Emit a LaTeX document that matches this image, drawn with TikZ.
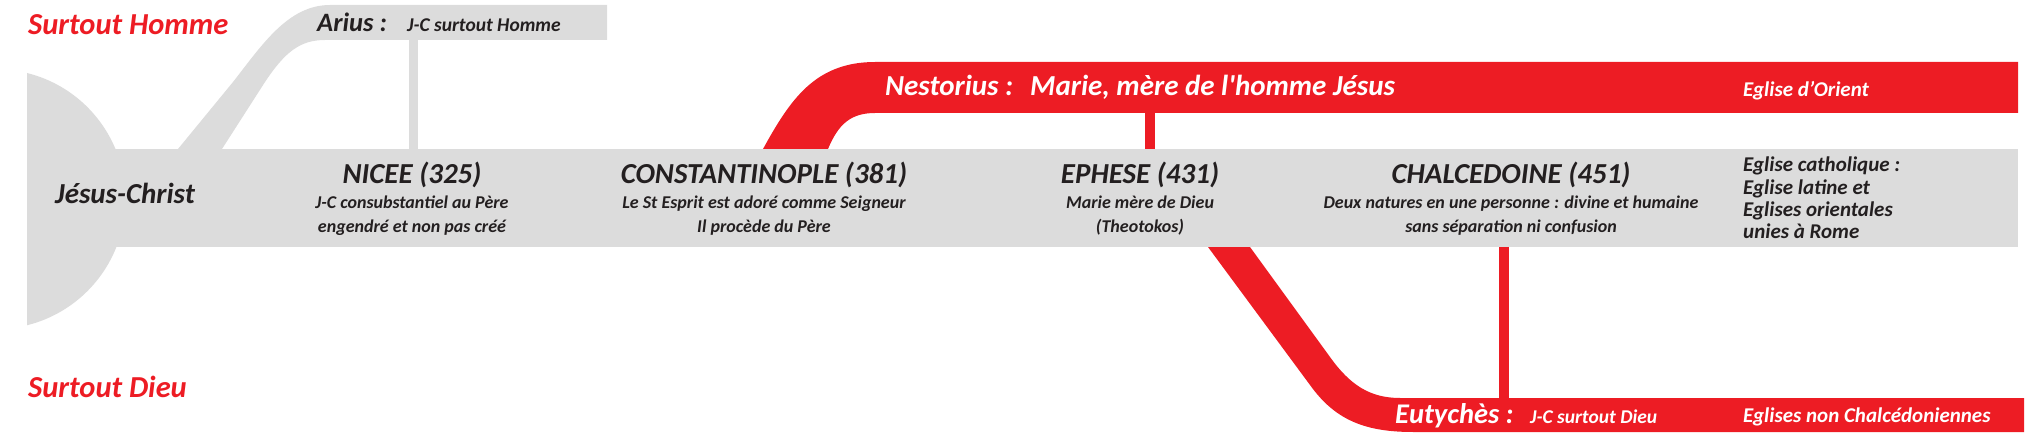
\documentclass[tikz,border=0pt]{standalone}
\usepackage{fontspec}
\setmainfont{Carlito}[Ligatures=TeXOff]
\definecolor{bandgray}{HTML}{DCDCDC}
\definecolor{heresyred}{HTML}{ED1C24}
\definecolor{ink}{HTML}{231F20}
\tikzset{
  heading/.style={font=\bfseries\itshape\fontsize{29}{29}\selectfont,text=ink,anchor=base,inner sep=0},
  creed/.style={font=\bfseries\itshape\fontsize{18}{24.5}\selectfont,text=ink,align=center,anchor=base,inner sep=0},
  church/.style={font=\bfseries\itshape\fontsize{21}{22.4}\selectfont,text=ink,align=left,anchor=base west,inner sep=0},
  tendency/.style={font=\bfseries\itshape\fontsize{30.5}{30.5}\selectfont,text=heresyred,anchor=base west,inner sep=0},
  heretic/.style={font=\bfseries\itshape\fontsize{28.5}{28.5}\selectfont,anchor=base west,inner sep=0},
  doctrine/.style={font=\bfseries\itshape\fontsize{19.5}{19.5}\selectfont,anchor=base west,inner sep=0},
  link/.style={line width=10pt}
}
\begin{document}
\begin{tikzpicture}[x=1pt,y=-1pt]
	\useasboundingbox (0,0) rectangle (2042,435);
	% Arius branch
	\fill[bandgray] (178,149) -- (233,82) .. controls (262,45) and (288,5) .. (330,5) -- (607,5)
		-- (607,40) -- (325,40) .. controls (300,40) and (285,52) .. (265,82) -- (222,149) -- cycle;
	% Nestorius branch
	\fill[heresyred] (763,149) .. controls (790,100) and (815,62) .. (875,62) -- (2018,62)
		-- (2018,113) -- (875,113) .. controls (850,113) and (838,125) .. (828,149) -- cycle;
	% Eutyches branch
	\fill[heresyred] (1208,247) -- (1310,385) .. controls (1335,420) and (1365,432) .. (1413,432) -- (2024,432)
		-- (2024,398) -- (1400,398) .. controls (1370,398) and (1350,385) .. (1330,357) -- (1250,247) -- cycle;
	% main line
	\fill[bandgray] (27,73) arc[start angle=-76,end angle=76,radius=130] -- cycle;
	\fill[bandgray] (27,149) rectangle (2018,247);
	% links
	\coordinate (ariusfoot) at (413.5,40);
	\coordinate (niceetop) at (413.5,149);
	\coordinate (nestfoot) at (1150,113);
	\coordinate (ephesetop) at (1150,149);
	\coordinate (chalcfoot) at (1504,247);
	\coordinate (eutytop) at (1504,398);
	\draw[link,bandgray,line width=9pt] (ariusfoot) -- (niceetop);
	\draw[link,heresyred] (nestfoot) -- (ephesetop);
	\draw[link,heresyred] (chalcfoot) -- (eutytop);
	% tendencies
	\node[tendency] (homme) at (28,35) {Surtout Homme};
	\node[tendency] (dieu) at (28,397) {Surtout Dieu};
	% heresies
	\node[heretic,text=ink,font=\bfseries\itshape\fontsize{26.5}{26.5}\selectfont] (arius) at (317,32) {Arius :};
	\node[doctrine,text=ink] (ariusdoc) at (407,32) {J-C surtout Homme};
	\node[heretic,text=white,font=\bfseries\itshape\fontsize{29}{29}\selectfont] (nest) at (885,96) {Nestorius :};
	\node[heretic,text=white,font=\bfseries\itshape\fontsize{29}{29}\selectfont] (nestdoc) at (1030,96) {Marie, mère de l'homme Jésus};
	\node[heretic,text=white] (euty) at (1395,423) {Eutychès :};
	\node[doctrine,text=white] (eutydoc) at (1530,423) {J-C surtout Dieu};
	% councils
	\node[heading,anchor=base west] (jesus) at (55,204) {Jésus-Christ};
	\node[heading] (nicee) at (412,184) {NICEE (325)};
	\node[creed] (niceedoc) at (412,233) {J-C consubstantiel au Père\\engendré et non pas créé};
	\node[heading] (const) at (764,184) {CONSTANTINOPLE (381)};
	\node[creed] (constdoc) at (764,233) {Le St Esprit est adoré comme Seigneur\\Il procède du Père};
	\node[heading] (ephese) at (1140,184) {EPHESE (431)};
	\node[creed] (ephesedoc) at (1140,233) {Marie mère de Dieu\\(Theotokos)};
	\node[heading] (chalc) at (1511,184) {CHALCEDOINE (451)};
	\node[creed] (chalcdoc) at (1511,233) {Deux natures en une personne : divine et humaine\\sans séparation ni confusion};
	% churches
	\node[church,text=white] (orient) at (1743,97) {Eglise d’Orient};
	\node[church] (catho) at (1743,239) {Eglise catholique :\\Eglise latine et\\Eglises orientales\\unies à Rome};
	\node[church,text=white] (nonchalc) at (1743,422) {Eglises non Chalcédoniennes};
\end{tikzpicture}
\end{document}
